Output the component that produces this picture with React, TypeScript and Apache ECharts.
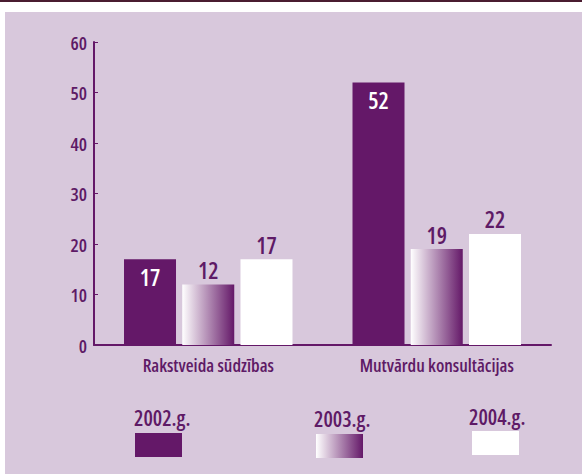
import React, { useEffect, useRef } from "react";
import * as echarts from "echarts";

const categories = ["Rakstveida sūdzības", "Mutvārdu konsultācijas"];
const seriesNames = ["2002.g.", "2003.g.", "2004.g."];
const values2002 = [17, 52];
const values2003 = [12, 19];
const values2004 = [17, 22];
const yTicks = { min: 0, max: 60, interval: 10 };

const FONT = "'Open Sans', sans-serif";
const PURPLE = "#641868";
const TEXT = "#5e1a66";
const BG = "#d8c8dc";

const gradient = () =>
  new echarts.graphic.LinearGradient(0, 0, 1, 0, [
    { offset: 0, color: "#ffffff" },
    { offset: 1, color: PURPLE },
  ]);

export default function App() {
  const ref = useRef<HTMLDivElement>(null);
  useEffect(() => {
    if (!ref.current) return;
    const chart = echarts.init(ref.current, null, { renderer: "svg" });
    const ox = 5;
    const oy = 12;
    const legendPos = [
      { tx: 134, ty: 418, rx: 135, ry: 433, fill: PURPLE as any },
      { tx: 314, ty: 419, rx: 316, ry: 434, fill: gradient() as any },
      { tx: 469, ty: 417, rx: 472, ry: 431, fill: "#ffffff" as any },
    ];
    const graphic: any[] = [];
    seriesNames.forEach((name, i) => {
      const p = legendPos[i];
      graphic.push({
        type: "text",
        x: p.tx - ox,
        y: p.ty - oy,
        style: {
          text: name,
          fill: TEXT,
          font: `600 21px ${FONT}`,
          textAlign: "left",
          textVerticalAlign: "middle",
        },
      });
      graphic.push({
        type: "rect",
        shape: { x: p.rx - ox, y: p.ry - oy, width: 47, height: 24 },
        style: { fill: p.fill },
      });
    });

    const labelBase = {
      show: true,
      fontFamily: FONT,
      fontWeight: 600,
      fontSize: 23,
      color: TEXT,
    };

    chart.setOption({
      animation: false,
      backgroundColor: BG,
      grid: { left: 89, right: 31, top: 30, bottom: 129, containLabel: false },
      xAxis: {
        type: "category",
        data: categories,
        axisLine: { lineStyle: { color: PURPLE, width: 2 } },
        axisTick: { show: false },
        axisLabel: { color: TEXT, fontFamily: FONT, fontWeight: 600, fontSize: 18, margin: 11, interval: 0 },
        splitLine: { show: false },
      },
      yAxis: {
        type: "value",
        min: yTicks.min,
        max: yTicks.max,
        interval: yTicks.interval,
        axisLine: { show: true, lineStyle: { color: PURPLE, width: 2 } },
        axisTick: { show: true, inside: true, length: 4, lineStyle: { color: PURPLE, width: 1 } },
        axisLabel: { color: TEXT, fontFamily: FONT, fontWeight: 600, fontSize: 18.5, margin: 7 },
        splitLine: { show: false },
      },
      series: [
        {
          name: seriesNames[0],
          type: "bar",
          data: values2002,
          barWidth: 52,
          barGap: "12%",
          itemStyle: { color: PURPLE },
          label: { ...labelBase, position: "insideTop", distance: 6, color: "#ffffff" },
        },
        {
          name: seriesNames[1],
          type: "bar",
          data: values2003,
          barWidth: 52,
          barGap: "12%",
          itemStyle: { color: gradient() },
          label: { ...labelBase, position: "top", distance: 3 },
        },
        {
          name: seriesNames[2],
          type: "bar",
          data: values2004,
          barWidth: 52,
          barGap: "12%",
          itemStyle: { color: "#ffffff" },
          label: { ...labelBase, position: "top", distance: 3 },
        },
      ],
      graphic,
    });
    return () => chart.dispose();
  }, []);

  return (
    <div style={{ position: "absolute", left: 0, top: 0, width: 582, height: 474, background: "#ffffff" }}>
      <style>{`#root text { font-stretch: 75% !important; }`}</style>
      <div style={{ position: "absolute", left: 0, top: 0, width: 582, height: 2, background: "#4a1c30" }} />
      <div ref={ref} style={{ position: "absolute", left: 5, top: 12, width: 577, height: 462 }} />
    </div>
  );
}
